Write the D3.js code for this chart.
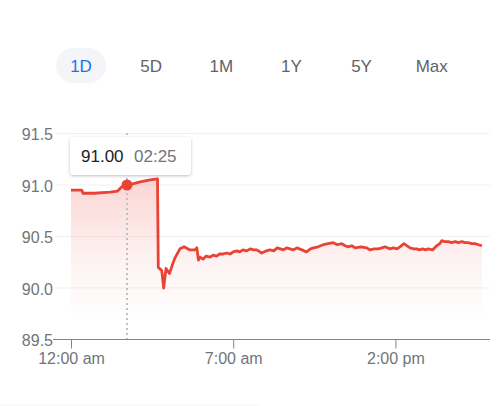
<!DOCTYPE html>
<html lang="en">
<head>
    <meta charset="UTF-8">
    <title>1D price</title>
    <script src="https://cdn.jsdelivr.net/npm/d3@7"></script>
    <style>
        body {
            margin: 0;
            background: #fff;
            font-family: Arial, "Liberation Sans", sans-serif;
        }
    </style>
</head>
<body>
    <svg id="chart" width="499" height="406"></svg>

    <script>
        // range buttons
        const ranges = ["1D", "5D", "1M", "1Y", "5Y", "Max"];
        const activeRange = "1D";

        // minutes since 12:00 am, and price
        const minutes = [0, 28, 31, 60, 101, 120, 131, 145, 160, 179, 205, 224, 226, 235, 240, 246, 255, 262, 269, 282, 293, 308, 321, 326, 330, 334, 342, 350, 360, 368, 377, 385, 394, 403, 412, 420, 429, 437, 445, 455, 464, 473, 481, 494, 505, 515, 525, 534, 550, 558, 567, 576, 585, 598, 610, 620, 628, 640, 653, 666, 679, 690, 701, 710, 718, 727, 736, 751, 766, 774, 785, 796, 805, 813, 826, 835, 844, 852, 862, 878, 887, 895, 903, 910, 918, 925, 936, 947, 955, 960, 968, 977, 986, 995, 1003, 1012, 1020, 1029, 1038, 1046, 1055, 1064];
        const prices = [90.95, 90.95, 90.92, 90.92, 90.93, 90.94, 90.98, 91.00, 91.01, 91.03, 91.05, 91.06, 90.20, 90.17, 90.00, 90.19, 90.14, 90.22, 90.29, 90.38, 90.40, 90.37, 90.37, 90.39, 90.27, 90.30, 90.28, 90.31, 90.30, 90.32, 90.31, 90.33, 90.33, 90.34, 90.33, 90.35, 90.36, 90.35, 90.37, 90.36, 90.38, 90.37, 90.37, 90.34, 90.36, 90.37, 90.36, 90.39, 90.37, 90.39, 90.38, 90.37, 90.39, 90.37, 90.35, 90.38, 90.39, 90.40, 90.42, 90.43, 90.44, 90.42, 90.43, 90.41, 90.40, 90.41, 90.39, 90.40, 90.39, 90.37, 90.38, 90.38, 90.39, 90.40, 90.38, 90.39, 90.38, 90.40, 90.43, 90.39, 90.38, 90.38, 90.37, 90.38, 90.37, 90.38, 90.37, 90.41, 90.43, 90.46, 90.45, 90.45, 90.44, 90.45, 90.44, 90.45, 90.44, 90.44, 90.43, 90.43, 90.42, 90.41];

        const yTicks = [89.5, 90.0, 90.5, 91.0, 91.5];
        const xTicks = [0, 420, 840];
        const xTickLabels = ["12:00 am", "7:00 am", "2:00 pm"];

        // hovered point
        const hoverMinute = 145;
        const hoverPrice = 91.00;
        const hoverLabel = "02:25";

        const data = minutes.map((m, i) => ({ m: m, v: prices[i] }));

        const svg = d3.select("#chart");
        const red = "#ea4335";
        const grey = "#70757a";
        const font = "Arial, 'Liberation Sans', sans-serif";

        const x = d3.scaleLinear().domain([0, 840]).range([71, 395.4]);
        const y = d3.scaleLinear().domain([89.5, 91.5]).range([339.5, 133.5]);

        // buttons
        const btnX = d3.scalePoint().domain(ranges).range([81, 431.7]);
        svg.append("rect")
            .attr("x", btnX(activeRange) - 25).attr("y", 48)
            .attr("width", 50).attr("height", 35).attr("rx", 17.5)
            .attr("fill", "#f3f5f8");
        svg.selectAll(".range")
            .data(ranges)
            .enter().append("text")
            .attr("class", "range")
            .attr("x", d => btnX(d))
            .attr("y", 72)
            .attr("text-anchor", "middle")
            .style("font-size", "17px")
            .attr("fill", d => d === activeRange ? "#1a73e8" : "#5f6368")
            .text(d => d);

        // gridlines
        svg.selectAll(".grid")
            .data(yTicks.slice(1))
            .enter().append("line")
            .attr("class", "grid")
            .attr("x1", 55).attr("x2", 490)
            .attr("y1", d => y(d)).attr("y2", d => y(d))
            .attr("stroke", "#f1f1f1").attr("stroke-width", 1);

        // gradient fill under the line
        const defs = svg.append("defs");
        const grad = defs.append("linearGradient")
            .attr("id", "fade")
            .attr("gradientUnits", "userSpaceOnUse")
            .attr("x1", 0).attr("x2", 0)
            .attr("y1", y(91.06)).attr("y2", y(89.67));
        grad.append("stop").attr("offset", 0).attr("stop-color", red).attr("stop-opacity", 0.22);
        grad.append("stop").attr("offset", 0.55).attr("stop-color", red).attr("stop-opacity", 0.07);
        grad.append("stop").attr("offset", 1).attr("stop-color", red).attr("stop-opacity", 0);

        const area = d3.area()
            .x(d => x(d.m))
            .y0(y(89.67))
            .y1(d => y(d.v));

        svg.append("path")
            .datum(data)
            .attr("d", area)
            .attr("fill", "url(#fade)");

        // hover guide
        svg.append("line")
            .attr("x1", x(hoverMinute)).attr("x2", x(hoverMinute))
            .attr("y1", 133).attr("y2", 339)
            .attr("stroke", "#bdc1c6").attr("stroke-width", 2)
            .attr("stroke-dasharray", "2,3");

        const line = d3.line()
            .x(d => x(d.m))
            .y(d => y(d.v));

        svg.append("path")
            .datum(data)
            .attr("d", line)
            .attr("fill", "none")
            .attr("stroke", red)
            .attr("stroke-width", 2.8)
            .attr("stroke-linejoin", "round");

        svg.append("circle")
            .attr("cx", x(hoverMinute)).attr("cy", y(hoverPrice))
            .attr("r", 5.5)
            .attr("fill", red);

        // x axis
        svg.append("line")
            .attr("x1", 53).attr("x2", 490)
            .attr("y1", 339.5).attr("y2", 339.5)
            .attr("stroke", "#80868b").attr("stroke-width", 1);

        const xAxis = d3.axisBottom(x)
            .tickValues(xTicks)
            .tickSize(9)
            .tickPadding(4)
            .tickFormat((d, i) => xTickLabels[i]);

        const gx = svg.append("g")
            .attr("transform", "translate(0,339.5)")
            .call(xAxis);
        gx.select(".domain").remove();
        gx.selectAll(".tick line").attr("stroke", "#80868b");
        gx.selectAll(".tick text")
            .attr("fill", grey)
            .style("font-size", "16px")
            .style("font-family", font);

        // y axis
        const yAxis = d3.axisLeft(y)
            .tickValues(yTicks)
            .tickSize(0)
            .tickPadding(0)
            .tickFormat(d3.format(".1f"));

        const gy = svg.append("g")
            .attr("transform", "translate(53,1)")
            .call(yAxis);
        gy.select(".domain").remove();
        gy.selectAll(".tick text")
            .attr("fill", grey)
            .style("font-size", "16px")
            .style("font-family", font);

        // tooltip
        const shadow = defs.append("filter")
            .attr("id", "shadow")
            .attr("x", "-20%").attr("y", "-30%")
            .attr("width", "140%").attr("height", "170%");
        shadow.append("feDropShadow")
            .attr("dx", 0).attr("dy", 1)
            .attr("stdDeviation", 1.5)
            .attr("flood-color", "#000")
            .attr("flood-opacity", 0.25);

        const tip = svg.append("g");
        tip.append("rect")
            .attr("x", 70).attr("y", 137)
            .attr("width", 121).attr("height", 38)
            .attr("rx", 4)
            .attr("fill", "#fff")
            .attr("filter", "url(#shadow)");
        tip.append("text")
            .attr("x", 81).attr("y", 162)
            .style("font-size", "17px")
            .attr("fill", "#202124")
            .text(hoverPrice.toFixed(2));
        tip.append("text")
            .attr("x", 134).attr("y", 162)
            .style("font-size", "17px")
            .attr("fill", grey)
            .text(hoverLabel);

        // faint separator at bottom
        svg.append("line")
            .attr("x1", 0).attr("x2", 260)
            .attr("y1", 405).attr("y2", 405)
            .attr("stroke", "#f1f3f4").attr("stroke-width", 1);
    </script>
</body>
</html>
